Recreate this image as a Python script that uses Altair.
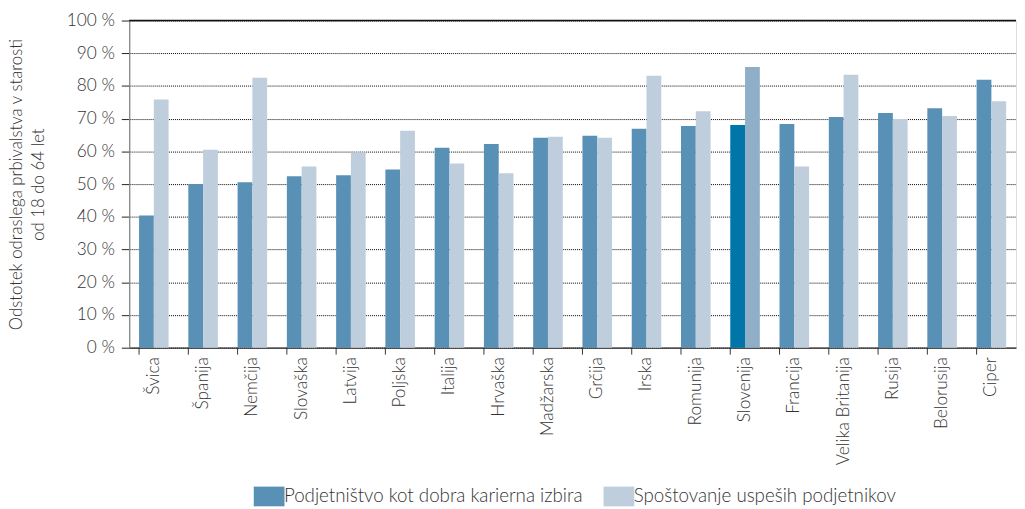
import altair as alt
import pandas as pd

countries = ["Švica", "Španija", "Nemčija", "Slovaška", "Latvija", "Poljska", "Italija",
             "Hrvaška", "Madžarska", "Grčija", "Irska", "Romunija", "Slovenija", "Francija",
             "Velika Britanija", "Rusija", "Belorusija", "Ciper"]
career = [40.4, 50.0, 50.6, 52.4, 52.7, 54.5, 61.1, 62.3, 64.2, 64.8, 66.9, 67.8, 68.1,
          68.4, 70.5, 71.7, 73.2, 81.9]
respect = [75.9, 60.5, 82.5, 55.4, 59.7, 66.3, 56.3, 53.3, 64.5, 64.2, 83.1, 72.3, 85.8,
           55.4, 83.4, 69.9, 70.8, 75.3]
series = ["Podjetništvo kot dobra karierna izbira", "Spoštovanje uspeših podjetnikov"]
highlight = "Slovenija"
y_ticks = [0, 10, 20, 30, 40, 50, 60, 70, 80, 90, 100]

rows = []
for c, a, b in zip(countries, career, respect):
    for s, v in zip(series, [a, b]):
        key = s if c != highlight else s + " (SI)"
        rows.append({"country": c, "series": s, "value": v, "key": key})
df = pd.DataFrame(rows)

color_domain = [series[0], series[1], series[0] + " (SI)", series[1] + " (SI)"]
color_range = ["#5991b6", "#bfcedd", "#0075a8", "#8faec8"]

FONT = "Lato"
W, H = 900, 332

xscale = alt.Scale(domain=countries, paddingInner=0.4, paddingOuter=0.2)
yscale = alt.Scale(domain=[0, 100], nice=False)

xaxis = alt.Axis(title=None, labelAngle=-90, ticks=False, domain=True,
                 domainColor="#333", domainWidth=1.3, labelFontSize=17.5,
                 labelFont=FONT, labelFontWeight=300, labelColor="#333",
                 labelPadding=9, grid=False)
yaxis = alt.Axis(values=y_ticks, labelExpr="datum.value + ' %'", labelOverlap=False,
                 title=["Odstotek odraslega prbivalstva v starosti", "od 18 do 64 let"],
                 titleFont=FONT, titleFontSize=17, titleFontWeight=300,
                 titleColor="#333", titleLineHeight=22, titlePadding=19,
                 labelFont=FONT, labelFontSize=17.5, labelFontWeight=300, labelColor="#333",
                 labelPadding=7, tickSize=8, tickColor="#222",
                 domainColor="#888", domainWidth=1.3,
                 grid=True, gridColor="#000", gridDash=[1, 1], gridWidth=1)

bars = alt.Chart(df).mark_bar().encode(
    x=alt.X("country:N", sort=countries, scale=xscale, axis=xaxis),
    xOffset=alt.XOffset("series:N", sort=series),
    y=alt.Y("value:Q", scale=yscale, axis=yaxis),
    color=alt.Color("key:N", scale=alt.Scale(domain=color_domain, range=color_range),
                    legend=alt.Legend(values=series, title=None, orient="none",
                                      direction="horizontal", legendX=132, legendY=473,
                                      symbolType="M-1.56,-1H1.56V1H-1.56Z",
                                      symbolSize=400, symbolStrokeWidth=0,
                                      symbolOpacity=1,
                                      labelFont=FONT, labelFontSize=19,
                                      labelFontWeight=300, labelColor="#333",
                                      labelOffset=5, columnPadding=20, labelLimit=400)),
)

top_df = pd.DataFrame({"value": [100]})
top_line = alt.Chart(top_df).mark_rule(color="#111", strokeWidth=1.5).encode(
    y=alt.Y("value:Q", scale=yscale, axis=yaxis),
)

tick_df = pd.DataFrame({"country": countries})
x_ticks = alt.Chart(tick_df).mark_rule(color="#333", strokeWidth=1).encode(
    x=alt.X("country:N", sort=countries, bandPosition=0, scale=xscale, axis=xaxis),
    y=alt.value(H),
    y2=alt.value(H + 7),
)

chart = alt.layer(bars, top_line, x_ticks).properties(
    width=W, height=H,
    padding={"left": 0, "top": 0, "right": 0, "bottom": 0},
).configure_view(stroke=None).configure(font=FONT)

chart.save("out.html", embed_options={"renderer": "svg", "actions": False})
